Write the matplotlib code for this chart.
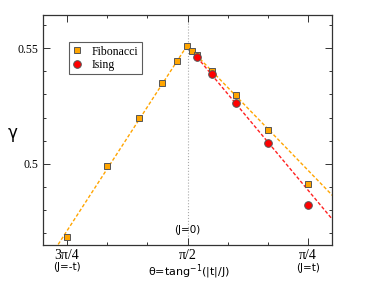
## Gamma vs theta for Fibonacci and Ising chains

## -----------------------
## Load libraries
import numpy as np
import matplotlib
matplotlib.use("Agg")
import matplotlib.pyplot as plt
from matplotlib.ticker import FixedLocator

## -----------------------
## Data (theta in units of pi/4, measured from 3pi/4 going right)
fib_u = [0.0, 0.333, 0.6, 0.79, 0.915, 0.995, 1.04, 1.08, 1.2, 1.4, 1.667, 2.0]
fib_gamma = [0.4684, 0.4990, 0.5198, 0.5350, 0.5445, 0.5510, 0.5488, 0.5472, 0.5402, 0.5296, 0.5145, 0.4912]

ising_u = [1.08, 1.2, 1.4, 1.667, 2.0]
ising_gamma = [0.5461, 0.5388, 0.5263, 0.5089, 0.4823]

## Linear fits (slope per pi/4, value at pi/2)
fit_left = (0.0804, 0.5514)
fit_fib_right = (-0.0538, 0.5510)
fit_ising_right = (-0.0625, 0.5511)

xtick_labels = ["3\u03c0/4", "\u03c0/2", "\u03c0/4"]

## convert to theta
to_theta = lambda u: 3*np.pi/4 - np.asarray(u)*np.pi/4

## -----------------------
## Plot
fig = plt.figure(figsize=(3.74, 2.89), dpi=100)
ax = fig.add_axes([43/374, 1-245/289, (332-43)/374, (245-15)/289])

ax.axvline(np.pi/2, color='#aaaaaa', lw=0.8, ls=':', zorder=1)

u_left = np.array([-0.3, 1.0])
ax.plot(to_theta(u_left), fit_left[1] + fit_left[0]*(u_left - 1), '--', color='#ffa500', lw=1.0, dashes=(2.5, 1.5), zorder=2)
u_right = np.array([1.04, 2.4])
ax.plot(to_theta(u_right), fit_fib_right[1] + fit_fib_right[0]*(u_right - 1), '--', color='#ffa500', lw=1.0, dashes=(2.5, 1.5), zorder=2)
u_right2 = np.array([1.08, 2.4])
ax.plot(to_theta(u_right2), fit_ising_right[1] + fit_ising_right[0]*(u_right2 - 1), '--', color='#ff2020', lw=1.0, dashes=(2.5, 1.5), zorder=2)

ax.plot(to_theta(fib_u), fib_gamma, 's', color='#ffa500', mec='#555555', mew=0.7, ms=5, ls='none', label='Fibonacci', zorder=3)
ax.plot(to_theta(ising_u), ising_gamma, 'o', color='#ff0000', mec='#555555', mew=0.7, ms=5.5, ls='none', label='Ising', zorder=4)

ax.set_xlim(0.8*np.pi, 0.2*np.pi)
ax.set_ylim(0.4648, 0.5644)

ax.set_xticks([3*np.pi/4, np.pi/2, np.pi/4])
ax.set_xticklabels(xtick_labels, family='Liberation Serif', fontsize=10)
ax.xaxis.set_minor_locator(FixedLocator(to_theta([1/3, 2/3, 4/3, 5/3])))
ax.set_yticks([0.5, 0.55])
ax.set_yticklabels(["0.5", "0.55"], family='Liberation Serif', fontsize=8.5)
ax.yaxis.set_minor_locator(FixedLocator([0.47, 0.48, 0.49, 0.51, 0.52, 0.53, 0.54, 0.56]))
ax.tick_params(which='both', direction='in', top=True, right=True, width=0.7, colors='#333333', labelcolor='black')
ax.tick_params(which='major', length=5, pad=3)
ax.tick_params(which='minor', length=2.5)
for sp in ax.spines.values():
    sp.set_linewidth(0.9)
    sp.set_color('#333333')

ax.text(np.pi/2, 0.4713, "(J=0)", ha='center', va='center', fontsize=7.5, family='DejaVu Sans')
fig.text(67/374, 1-267/289, "(J=-t)", ha='center', va='center', fontsize=7.5)
fig.text(308/374, 1-268/289, "(J=t)", ha='center', va='center', fontsize=7.5)
fig.text(189/374, 1-272/289, "\u03b8=tang$^{-1}$(|t|/J)", ha='center', va='center', fontsize=8)
fig.text(13/374, 1-133/289, "\u03b3", ha='center', va='center', fontsize=12)

leg = ax.legend(loc='upper left', bbox_to_anchor=((69-43)/289, 1-(42-15)/230), frameon=True, fancybox=False,
                prop={'family': 'Liberation Serif', 'size': 8.5}, handlelength=0.8, handletextpad=0.8,
                borderpad=0.3, labelspacing=0.1, borderaxespad=0)
leg.get_frame().set_edgecolor('#333333')
leg.get_frame().set_linewidth(0.8)

fig.savefig("out.png", dpi=100)
